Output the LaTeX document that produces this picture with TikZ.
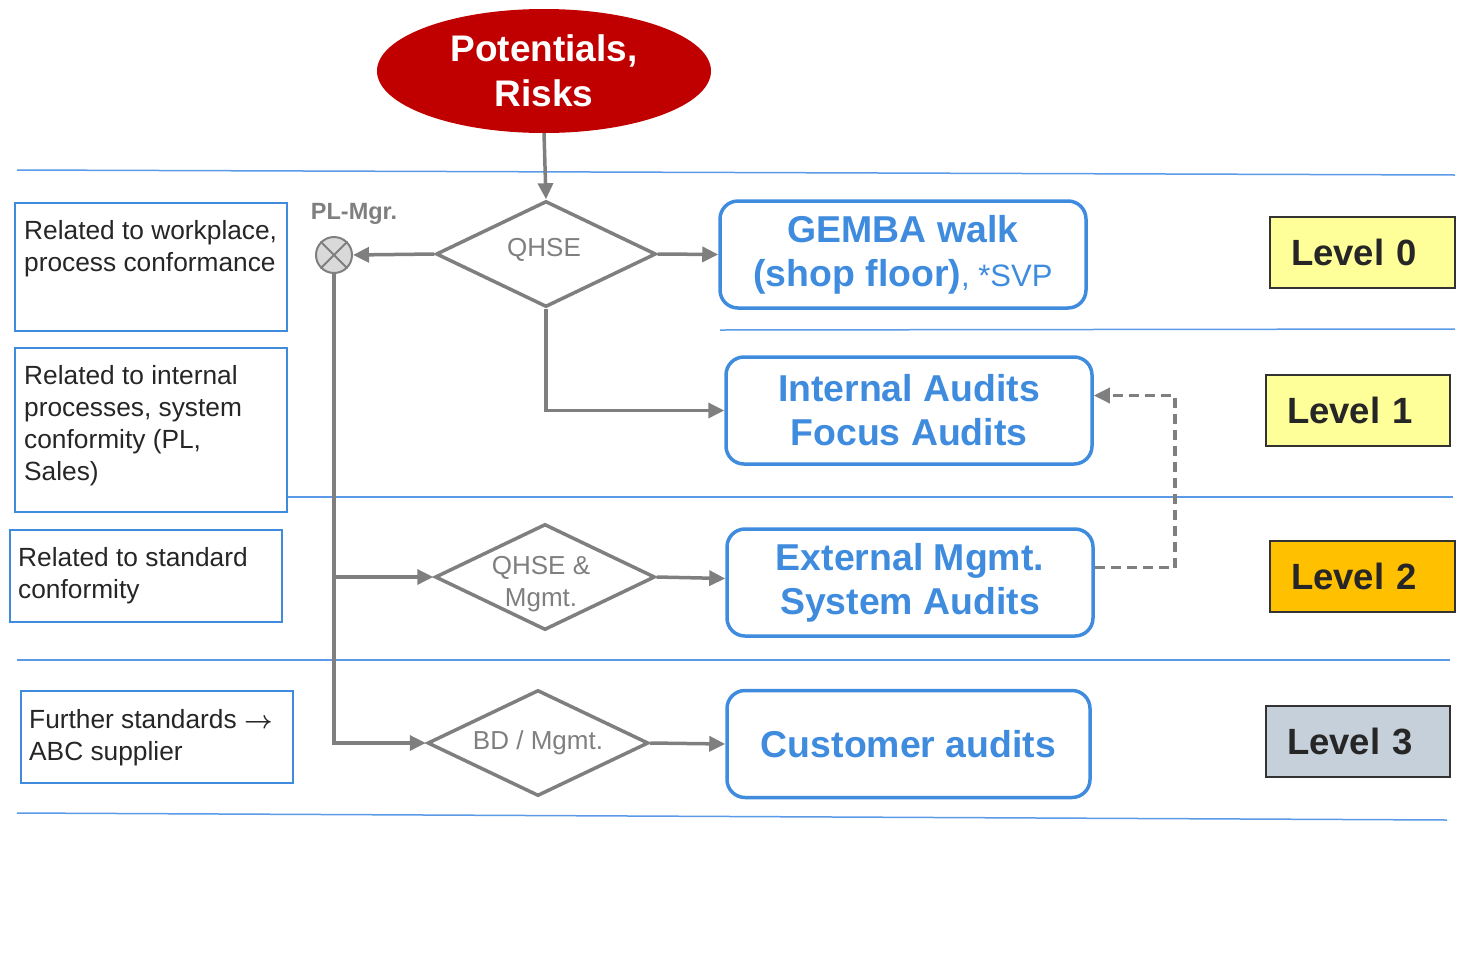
\documentclass[tikz,border=0pt]{standalone}
\usepackage{fontspec}
\setmainfont{Liberation Sans}
\usetikzlibrary{arrows.meta,shapes.geometric}
\definecolor{flowgray}{HTML}{7F7F7F}
\definecolor{auditblue}{HTML}{3F8BDE}
\definecolor{rulelineblue}{HTML}{5A9AE6}
\definecolor{riskred}{HTML}{C00000}
\definecolor{lvlyellow}{HTML}{FFFF99}
\definecolor{lvlorange}{HTML}{FFC000}
\definecolor{lvlslate}{HTML}{C5D0DA}
\definecolor{darktext}{HTML}{262626}

\begin{document}
\begin{tikzpicture}[x=1pt,y=-1pt,
  sep/.style={draw=rulelineblue, line width=1.5pt},
  leftbox/.style={draw=auditblue, line width=2pt, fill=white, inner sep=0, minimum width=272pt},
  lefttext/.style={anchor=north west, align=left, inner sep=0, text=darktext, font=\fontsize{26.3}{32}\selectfont},
  decision/.style={diamond, draw=flowgray, line width=3.5pt, fill=white, inner sep=0, minimum width=220pt, minimum height=106pt},
  dtext/.style={text=flowgray, font=\fontsize{26}{32}\selectfont, align=center},
  audit/.style={draw=auditblue, line width=3.5pt, rounded corners=18pt, fill=white, minimum width=366pt, minimum height=107pt, text=auditblue, font=\bfseries\fontsize{37.4}{44}\selectfont, align=center},
  level/.style={draw=black!80, line width=2pt, minimum height=71pt, text width=143pt, inner xsep=21pt, align=left, font=\bfseries\fontsize{36.5}{44}\selectfont, text=darktext},
  flow/.style={draw=flowgray, line width=3.5pt, -{Triangle[length=16pt,width=15pt]}},
  backflow/.style={flow, dash pattern=on 10pt off 6pt}
]
\useasboundingbox (0,0) rectangle (1457,970);

% level separators
\draw[sep] (17,170) -- (1455,175);
\draw[sep] (720,330) -- (1455,329);
\draw[sep] (17,497) -- (1453,497);
\draw[sep] (17,660) -- (1450,660);
\draw[sep] (17,813) -- (1447,820);

% source
\node[ellipse, fill=riskred, minimum width=334pt, minimum height=124pt, inner sep=0,
      text=white, font=\bfseries\fontsize{37}{45}\selectfont, align=center]
      (risk) at (544,71) {Potentials,\\Risks};

% scope descriptions on the left
\node[leftbox, minimum height=128pt] (b1) at (151,267) {};
\node[lefttext] (t1) at (24,220) {Related to workplace,\\process conformance};
\node[leftbox, minimum height=164pt] (b2) at (151,430) {};
\node[lefttext] (t2) at (24,365) {Related to internal\\processes, system\\conformity (PL,\\Sales)};
\node[leftbox, minimum height=92pt] (b3) at (146,576) {};
\node[lefttext] (t3) at (18,547) {Related to standard\\conformity};
\node[leftbox, minimum height=92pt] (b4) at (156.5,737) {};
\node[lefttext] (t4) at (29,709) {Further standards {\boldmath$\rightarrow$}\\ABC supplier};

% PL manager junction
\node[circle, draw=flowgray, line width=2pt, fill=black!15, minimum size=36pt, inner sep=0] (pl) at (334,255) {};
\draw[flowgray, line width=2pt] (pl.north west) -- (pl.south east) (pl.north east) -- (pl.south west);
\node[font=\bfseries\fontsize{23.5}{26}\selectfont, text=flowgray] (plmgr) at (354,214) {PL-Mgr.};

% decisions
\node[decision, label={[dtext, yshift=4pt, xshift=-2pt]center:QHSE}] (qhse) at (546,254) {};
\node[decision, label={[dtext, xshift=-4pt, yshift=-7pt]center:{QHSE \&\\Mgmt.}}] (qm) at (545,577) {};
\node[decision, minimum width=221pt, label={[dtext]center:{BD / Mgmt.}}] (bd) at (538,743) {};

% audit types
\node[audit] (gemba) at (903,254.5) {GEMBA walk\\(shop floor){\mdseries\fontsize{31}{44}\selectfont, *SVP}};
\node[audit] (int) at (909,410.5) {Internal Audits\\Focus Audits};
\node[audit] (ext) at (910,582.5) {External Mgmt.\\System Audits};
\node[audit, minimum width=363pt] (cust) at (908.5,744) {Customer audits};

% levels
\node[level, fill=lvlyellow] (l0) at (1362.5,252) {Level 0};
\node[level, fill=lvlyellow, text width=142pt] (l1) at (1358,410.5) {Level 1};
\node[level, fill=lvlorange] (l2) at (1362.5,576.5) {Level 2};
\node[level, fill=lvlslate, text width=142pt] (l3) at (1358,741.5) {Level 3};

% flow
\draw[flow] (risk.south) -- (qhse.north);
\draw[flow] (qhse.west) -- (pl.east);
\draw[flow] (qhse.east) -- (gemba.west);
\draw[flow] (qhse.south) |- (int.west);
\draw[flow] (pl.south) |- (bd.west);
\draw[flow] (pl.south |- qm.west) -- (qm.west);
\draw[flow] (qm.east) -- ([yshift=4pt]ext.west);
\draw[flow] (bd.east) -- (cust.west);
\draw[backflow] ([yshift=15pt]ext.east) -- ++(80,0) |- ([yshift=15pt]int.east);
\end{tikzpicture}
\end{document}
